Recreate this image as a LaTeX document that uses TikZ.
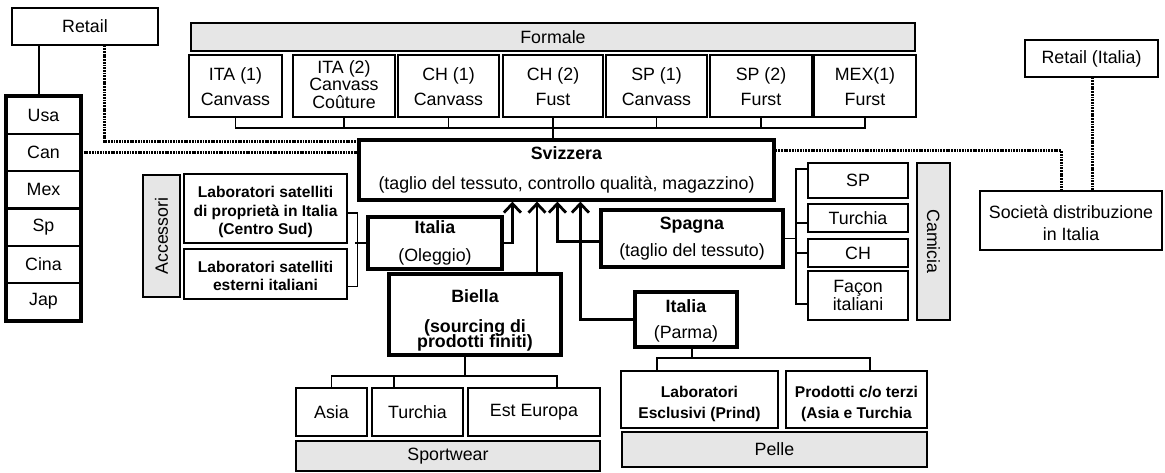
\documentclass[tikz,border=0pt]{standalone}
\usepackage{fontspec}
\setmainfont{Liberation Sans}
\usetikzlibrary{arrows.meta}
\definecolor{barfill}{HTML}{E6E6E6}
\newcommand\fsmain{\fontsize{17.8}{19.5}\selectfont}
\newcommand\fssmall{\fontsize{15.6}{18.5}\selectfont}
% lines of text set a little below the box centre
\newcommand\lowered[2]{\raisebox{-#1}[\height][\depth]{\begin{tabular}{@{}c@{}}#2\end{tabular}}}
\tikzset{
  thinbox/.style={draw, line width=1.3pt, inner sep=0pt, align=center, font=\fsmain},
  thickbox/.style={draw, line width=3.2pt, inner sep=0pt, align=center, font=\fsmain},
  rowbox/.style={draw, line width=2pt, inner sep=0pt, align=center, font=\fsmain,
    minimum width=73pt, minimum height=37.17pt},
  labbox/.style={thinbox, font=\fssmall\bfseries},
  graybar/.style={draw, fill=barfill, line width=1.3pt, inner sep=0pt, align=center, font=\fsmain},
  link/.style={line width=1.3pt},
  dotline/.style={line width=3pt, dash pattern=on 1.8pt off 0.9pt},
  feed/.style={line width=2.8pt, -{Straight Barb[length=9pt, width=17pt, line width=2.8pt]}},
  sz/.style 2 args={minimum width=#1pt, minimum height=#2pt}
}
\begin{document}
\begin{tikzpicture}[x=1pt, y=-1pt]
\useasboundingbox (0,0) rectangle (1165,473);

% --- Retail and markets ---
\node[thinbox, sz={146}{37}] (retail) at (85,26.5) {Retail};
\node[rowbox] (usa) at (43.5,115.6) {Usa};
\node[rowbox] (can) at (43.5,152.75) {Can};
\node[rowbox] (mex) at (43.5,189.9) {Mex};
\node[rowbox] (spm) at (43.5,227.1) {Sp};
\node[rowbox] (cina) at (43.5,264.25) {Cina};
\node[rowbox] (jap) at (43.5,301.4) {Jap};
\draw[line width=3.2pt] (usa.north west) rectangle (jap.south east);
\draw[link] ([xshift=-46pt]retail.south) -- ([xshift=-46pt]retail.south |- usa.north);

% --- Formale ---
\node[graybar, sz={724}{28}] (formale) at (553,37) {Formale};
\node[thinbox, sz={93}{62}] (ita1) at (235.5,86) {\lowered{3pt}{ITA (1)\\[5pt]Canvass}};
\node[thinbox, sz={102}{62}, font=\fontsize{17.8}{15.5}\selectfont] (ita2) at (344,86) {\lowered{1pt}{ITA (2)\\Canvass\\Coûture}};
\node[thinbox, sz={101}{62}] (ch1) at (448.5,86) {\lowered{3pt}{CH (1)\\[5pt]Canvass}};
\node[thinbox, sz={100}{62}] (ch2) at (553,86) {\lowered{3pt}{CH (2)\\[5pt]Fust}};
\node[thinbox, sz={101}{62}] (sp1) at (656.5,86) {\lowered{3pt}{SP (1)\\[5pt]Canvass}};
\node[thinbox, sz={102}{62}] (sp2) at (761,86) {\lowered{3pt}{SP (2)\\[5pt]Furst}};
\node[thinbox, sz={102}{62}] (mex1) at (865,86) {\lowered{3pt}{MEX(1)\\[5pt]Furst}};
\coordinate (fbar) at (0,128);
\draw[link] (ita1.south) -- (ita1.south |- fbar) -- (mex1.south |- fbar) -- (mex1.south);
\foreach \n in {ita2,ch1,ch2,sp1,sp2} \draw[link] (\n.south) -- (\n.south |- fbar);

% --- Svizzera ---
\node[thickbox, sz={415}{60}] (svz) at (566.5,170) {\textbf{Svizzera}\\[10pt](taglio del tessuto, controllo qualità, magazzino)};
\draw[link] (ch2.south |- fbar) -- (ch2.south |- svz.north);

% --- Retail (Italia) and distribution ---
\node[thinbox, sz={133}{37}] (reti) at (1091.5,58.5) {Retail (Italia)};
\node[thinbox, sz={182}{59}] (soc) at (1071,220.5) {\lowered{5pt}{Società distribuzione\\[2pt]in Italia}};

\draw[dotline] ([xshift=19pt]retail.south) |- ([yshift=-3pt]svz.north west);
\draw[dotline] (can.east) -- (can.east -| svz.west);
\draw[dotline] ([yshift=-12pt]svz.north east) -| ([xshift=-10pt]soc.north);
\draw[dotline] ([xshift=0.5pt]reti.south) -- ([xshift=0.5pt]reti.south |- soc.north);

% --- Accessori ---
\node[graybar, sz={122}{37}, rotate=90] (acc) at (161.5,236) {Accessori};
\node[labbox, sz={163}{69}] (lab1) at (265.5,208.5) {\lowered{4pt}{Laboratori satelliti\\di proprietà in Italia\\(Centro Sud)}};
\node[labbox, sz={163}{50}] (lab2) at (265.5,274) {\lowered{4pt}{Laboratori satelliti\\esterni italiani}};
\node[thickbox, sz={134}{52}] (ole) at (435,243) {\textbf{Italia}\\[8pt](Oleggio)};
\draw[link] ([yshift=-4.5pt]lab1.east) -- ++(10,0) |- ([yshift=-12.5pt]lab2.east);
\draw[link] (ole.west) -- ++(-11,0);

% --- Spagna and Camicia ---
\node[thickbox, sz={182}{57}] (spa) at (692,238.5) {\textbf{Spagna}\\[7pt](taglio del tessuto)};
\node[thinbox, sz={100}{35}] (rsp) at (858,180.5) {SP};
\node[thinbox, sz={100}{28}] (rtu) at (858,218) {Turchia};
\node[thinbox, sz={100}{28}] (rch) at (858,253) {CH};
\node[thinbox, sz={100}{49}, font=\fontsize{17.8}{18}\selectfont] (rfa) at (858,295.5) {Façon\\italiani};
\node[graybar, sz={157}{33}, rotate=-90] (cam) at (933.5,241.5) {Camicia};
\coordinate (cbr) at (796,0);
\draw[link] ([yshift=11.5pt]rsp.west) -- ([yshift=11.5pt]rsp.west -| cbr) -- ([yshift=-8.5pt]rfa.west -| cbr) -- ([yshift=-8.5pt]rfa.west);
\draw[link] ([yshift=-5pt]rtu.west) -- ([yshift=-5pt]rtu.west -| cbr);
\draw[link] (rch.west) -- (rch.west -| cbr);
\draw[link] (spa.east) -- (spa.east -| cbr);

% --- Biella and Sportwear ---
\node[thickbox, sz={172}{81}, font=\fsmain\bfseries] (bie) at (475,314.5) {\lowered{7pt}{Biella\\[10pt](sourcing di\\[-4pt]prodotti finiti)}};
\node[thinbox, sz={71}{48}] (asia) at (331.5,412) {Asia};
\node[thinbox, sz={91}{48}] (tur) at (417.5,412) {Turchia};
\node[thinbox, sz={132}{48}] (est) at (534,412) {Est Europa};
\node[graybar, sz={304}{30}] (sport) at (448,456) {Sportwear};
\coordinate (bbr) at (0,376);
\draw[link] ([xshift=-10pt]bie.south) -- ([xshift=-10pt]bie.south |- bbr);
\draw[link] (asia.north) -- (asia.north |- bbr) -- ([xshift=23pt]est.north |- bbr) -- ([xshift=23pt]est.north);
\draw[link] ([xshift=-23.5pt]tur.north) -- ([xshift=-23.5pt]tur.north |- bbr);

% --- Parma and Pelle ---
\node[thickbox, sz={102}{55}] (par) at (686,319.5) {\lowered{2pt}{\textbf{Italia}\\[7pt](Parma)}};
\node[labbox, sz={157}{57}] (lesc) at (699.5,399.5) {\lowered{5pt}{Laboratori\\[3pt]Esclusivi (Prind)}};
\node[labbox, sz={141}{57}] (prod) at (856.5,399.5) {\lowered{5pt}{Prodotti c/o terzi\\[3pt](Asia e Turchia}};
\node[graybar, sz={305}{35}] (pelle) at (774.5,449.5) {Pelle};
\coordinate (pbr) at (0,358);
\draw[link] ([xshift=6pt]par.south) -- ([xshift=6pt]par.south |- pbr);
\draw[link] ([xshift=-42.5pt]lesc.north) -- ([xshift=-42.5pt]lesc.north |- pbr) -- ([xshift=13.5pt]prod.north |- pbr) -- ([xshift=13.5pt]prod.north);

% --- Flows into Svizzera ---
\draw[feed] (ole.east) -| ([xshift=155pt]svz.south west);
\draw[feed] ([xshift=62pt]bie.north) -- ([xshift=62pt]bie.north |- svz.south);
\draw[feed] ([yshift=-3pt]spa.west) -| ([xshift=200pt]svz.south west);
\draw[feed] (par.west) -| ([xshift=223pt]svz.south west);
\end{tikzpicture}
\end{document}
